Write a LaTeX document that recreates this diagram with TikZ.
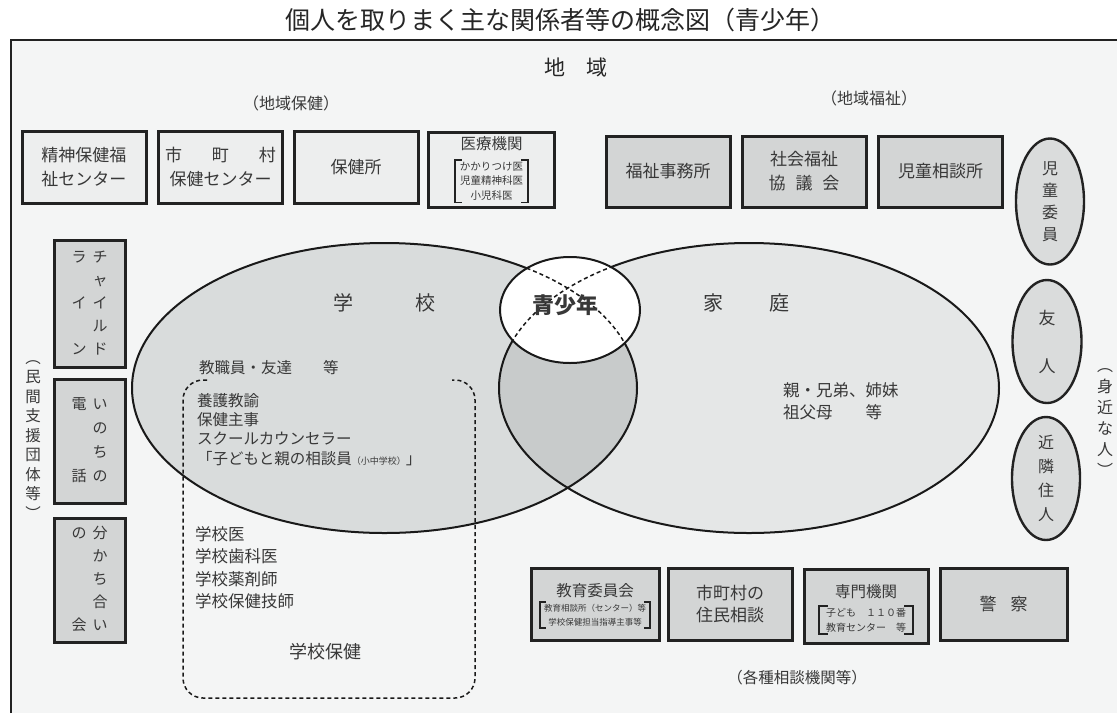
\documentclass[tikz,border=0pt]{standalone}
\usepackage{fontspec}
\setmainfont{Noto Sans CJK JP}
\usetikzlibrary{shapes.geometric}
\definecolor{bgc}{HTML}{F4F5F5}
\definecolor{framec}{HTML}{222222}
\definecolor{txt}{HTML}{383838}
\definecolor{lightbox}{HTML}{EDEEEE}
\definecolor{graybox}{HTML}{D3D5D5}
\definecolor{ovalc}{HTML}{DADCDC}
\definecolor{schoolc}{HTML}{D9DCDC}
\definecolor{familyc}{HTML}{E5E7E7}
\definecolor{lensc}{HTML}{C8CBCB}
\tikzset{
  boxbase/.style={draw=framec, line width=3pt, inner sep=0pt, align=center, text=txt},
  lbox/.style={boxbase, fill=lightbox, minimum width=124pt, minimum height=72pt},
  gbox/.style={boxbase, fill=graybox, minimum width=124pt, minimum height=72pt},
  vbox/.style={boxbase, fill=graybox, minimum width=71pt},
  ovalbox/.style={ellipse, draw=framec, line width=2.4pt, fill=ovalc, inner sep=0pt, align=center, text=txt},
  lbl/.style={inner sep=0pt, align=center, text=txt},
  lleft/.style={inner sep=0pt, align=left, anchor=west, text=txt},
  brk/.style={line width=1.6pt, draw=framec},
  elline/.style={line width=2pt, draw=black!90},
  dashline/.style={line width=1.5pt, draw=black!90, dash pattern=on 4pt off 3pt}
}
\begin{document}
\begin{tikzpicture}[x=1pt,y=-1pt]
\useasboundingbox (0,0) rectangle (1117,713);
\fill[white] (0,0) rectangle (1117,713);
\fill[bgc] (11,40) rectangle (1117,713);
\draw[line width=2.8pt, framec] (11,713) -- (11,40) -- (1117,40);

% title and headings
\node[lbl, text=black!85, font=\fontsize{25}{30}\selectfont] (title) at (560,20) {個人を取りまく主な関係者等の概念図（青少年）};
\node[lbl, text=black!85, font=\fontsize{21}{25}\selectfont] (chiiki) at (576,68) {地　域};
\node[lbl, font=\fontsize{16}{20}\selectfont] (hoken) at (291,103) {（地域保健）};
\node[lbl, font=\fontsize{16}{20}\selectfont] (fukushi) at (869,98) {（地域福祉）};

% ellipses
\fill[schoolc] (384.5,388) ellipse [x radius=252.5, y radius=145];
\fill[familyc] (749,388) ellipse [x radius=250, y radius=145];
\begin{scope}
  \clip (384.5,388) ellipse [x radius=252.5, y radius=145];
  \fill[lensc] (749,388) ellipse [x radius=250, y radius=145];
\end{scope}
\draw[elline] (384.5,388) ellipse [x radius=252.5, y radius=145];
\draw[elline] (749,388) ellipse [x radius=250, y radius=145];

% central circle
\fill[white] (570,310) ellipse [x radius=70, y radius=53];
\begin{scope}
  \clip (570,310) ellipse [x radius=70, y radius=53];
  \draw[dashline] (384.5,388) ellipse [x radius=252.5, y radius=145];
  \draw[dashline] (749,388) ellipse [x radius=250, y radius=145];
\end{scope}
\draw[elline] (570,310) ellipse [x radius=70, y radius=53];

% dashed school health frame (open top)
\draw[dashline, rounded corners=20pt] (207,380) -- (183,380) -- (183,698) -- (475,698) -- (475,380) -- (452,380);

% ellipse texts
\node[lbl, font=\fontsize{20}{24}\selectfont] (gakko) at (384,303) {学\hspace{62pt}校};
\node[lbl, font=\fontsize{20}{24}\selectfont] (katei) at (746,303) {家\hspace{46pt}庭};
\node[lbl, font=\fontsize{22}{26}\selectfont\bfseries] (seishonen) at (565,305) {青少年};
\node[lleft, font=\fontsize{15.5}{19}\selectfont] (kyoshoku) at (199,368) {教職員・友達　　等};
\node[lleft, font=\fontsize{15.5}{19.3}\selectfont, anchor=north west] (staff) at (197,393) {養護教諭\\保健主事\\スクールカウンセラー\\「子どもと親の相談員{\fontsize{9}{10}\selectfont （小中学校）}」};
\node[lleft, font=\fontsize{16.5}{22.5}\selectfont, anchor=north west] (gakkoi) at (195,526) {学校医\\学校歯科医\\学校薬剤師\\学校保健技師};
\node[lbl, font=\fontsize{18}{22}\selectfont] (gakkohoken) at (325,652) {学校保健};
\node[lleft, font=\fontsize{16.5}{22}\selectfont, anchor=north west] (kazoku) at (783,382) {親・兄弟、姉妹\\祖父母　　等};

% top left boxes (regional health)
\node[lbox, font=\fontsize{17}{24}\selectfont] (b1) at (84,167) {精神保健福\\祉センター};
\node[lbox, font=\fontsize{17}{24}\selectfont] (b2) at (220.5,167) {市\hspace{30pt}町\hspace{30pt}村\\保健センター};
\node[lbox, font=\fontsize{17}{24}\selectfont] (b3) at (356,167) {保健所};
\node[lbox, minimum width=126pt, minimum height=75pt] (b4) at (491.5,169.5) {};
\node[lbl, font=\fontsize{15.5}{19}\selectfont] (b4t) at (491.5,144) {医療機関};
\node[lbl, font=\fontsize{10.5}{14.5}\selectfont] (b4s) at (491.5,181) {かかりつけ医\\児童精神科医\\小児科医};
\draw[brk] ([xshift=2pt,yshift=2pt]b4s.north west) -- ([xshift=-5pt,yshift=2pt]b4s.north west) -- ([xshift=-5pt,yshift=-2pt]b4s.south west) -- ([xshift=2pt,yshift=-2pt]b4s.south west);
\draw[brk] ([xshift=-2pt,yshift=2pt]b4s.north east) -- ([xshift=5pt,yshift=2pt]b4s.north east) -- ([xshift=5pt,yshift=-2pt]b4s.south east) -- ([xshift=-2pt,yshift=-2pt]b4s.south east);

% top right boxes (regional welfare)
\node[gbox, minimum height=71pt, font=\fontsize{17}{24}\selectfont] (b5) at (668,171.5) {福祉事務所};
\node[gbox, minimum height=71pt, font=\fontsize{17}{24}\selectfont] (b6) at (804,171.5) {社会福祉\\協\hspace{10pt}議\hspace{10pt}会};
\node[gbox, minimum height=71pt, font=\fontsize{17}{24}\selectfont] (b7) at (940.5,171.5) {児童相談所};

% right ovals
\node[ovalbox, minimum width=68pt, minimum height=126pt, font=\fontsize{16}{22}\selectfont] (o1) at (1050,201.5) {児\\童\\委\\員};
\node[ovalbox, minimum width=69pt, minimum height=123pt, font=\fontsize{17}{48}\selectfont] (o2) at (1047,341.5) {友\\人};
\node[ovalbox, minimum width=68pt, minimum height=123pt, font=\fontsize{16}{24}\selectfont] (o3) at (1046,478.5) {近\\隣\\住\\人};
\node[lbl, font=\fontsize{16}{21}\selectfont] (mijika) at (1105,423) {︵\\身\\近\\な\\人\\︶};

% left boxes (private support groups)
\node[vbox, minimum height=127pt, font=\fontsize{15}{23}\selectfont] (l1) at (89.5,303.5) {\begin{tabular}{@{}c@{\hspace{6pt}}c@{}}ラ & チ\\ & ャ\\ イ & イ\\ & ル\\ ン & ド\end{tabular}};
\node[vbox, minimum height=124pt, font=\fontsize{15}{24}\selectfont] (l2) at (89.5,441) {\begin{tabular}{@{}c@{\hspace{6pt}}c@{}}電 & い\\ & の\\ & ち\\ 話 & の\end{tabular}};
\node[vbox, minimum height=124pt, font=\fontsize{15}{23}\selectfont] (l3) at (89.5,580) {\begin{tabular}{@{}c@{\hspace{6pt}}c@{}}の & 分\\ & か\\ & ち\\ & 合\\ 会 & い\end{tabular}};
\node[lbl, font=\fontsize{15.5}{19.5}\selectfont] (minkan) at (33,440) {︵\\民\\間\\支\\援\\団\\体\\等\\︶};

% bottom boxes (consultation agencies)
\node[gbox, minimum width=128pt, minimum height=72pt] (c1) at (595,604) {};
\node[lbl, font=\fontsize{15.5}{19}\selectfont] (c1t) at (595,591) {教育委員会};
\node[lbl, font=\fontsize{8.5}{14}\selectfont] (c1s) at (595,615) {教育相談所（センター）等\\学校保健担当指導主事等};
\draw[brk] ([xshift=2pt,yshift=2pt]c1s.north west) -- ([xshift=-4pt,yshift=2pt]c1s.north west) -- ([xshift=-4pt,yshift=-2pt]c1s.south west) -- ([xshift=2pt,yshift=-2pt]c1s.south west);
\draw[brk] ([xshift=-2pt,yshift=2pt]c1s.north east) -- ([xshift=4pt,yshift=2pt]c1s.north east) -- ([xshift=4pt,yshift=-2pt]c1s.south east) -- ([xshift=-2pt,yshift=-2pt]c1s.south east);
\node[gbox, font=\fontsize{17}{22}\selectfont] (c2) at (730,604) {市町村の\\住民相談};
\node[gbox, minimum height=74pt] (c3) at (866,606) {};
\node[lbl, font=\fontsize{15.5}{19}\selectfont] (c3t) at (866,592) {専門機関};
\node[lbl, font=\fontsize{10}{15}\selectfont] (c3s) at (866,620) {子ども　１１０番\\教育センター　等};
\draw[brk] ([xshift=2pt,yshift=2pt]c3s.north west) -- ([xshift=-7pt,yshift=2pt]c3s.north west) -- ([xshift=-7pt,yshift=-2pt]c3s.south west) -- ([xshift=2pt,yshift=-2pt]c3s.south west);
\draw[brk] ([xshift=-2pt,yshift=2pt]c3s.north east) -- ([xshift=7pt,yshift=2pt]c3s.north east) -- ([xshift=7pt,yshift=-2pt]c3s.south east) -- ([xshift=-2pt,yshift=-2pt]c3s.south east);
\node[gbox, minimum width=127pt, font=\fontsize{17}{22}\selectfont] (c4) at (1003.5,604) {警\hspace{14pt}察};
\node[lbl, font=\fontsize{15.5}{19}\selectfont] (kakushu) at (797,678) {（各種相談機関等）};
\end{tikzpicture}
\end{document}
